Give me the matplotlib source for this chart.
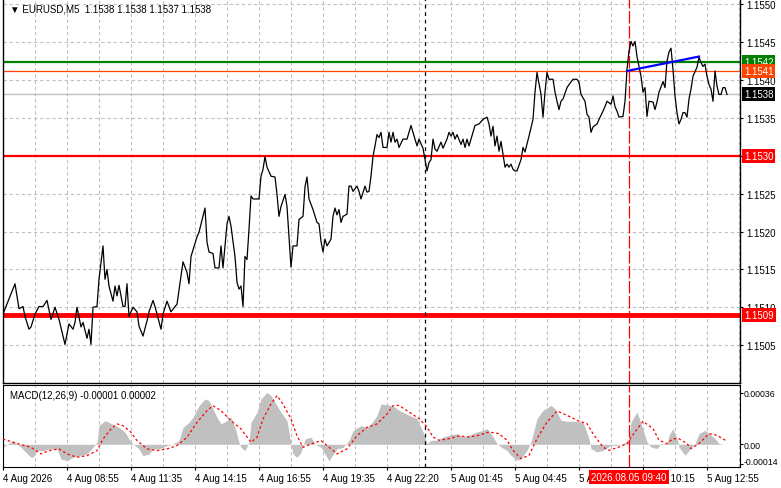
import matplotlib
matplotlib.use("Agg")
import matplotlib.pyplot as plt
import matplotlib.transforms as mtransforms

plt.rcParams['font.family'] = ['Liberation Sans', 'DejaVu Sans']

# EURUSD M5 closes (bar number counted from the left edge)
bars = [0, 3, 6, 8, 10, 11, 13, 14, 16, 18, 20, 22, 24, 26, 28, 30, 31, 33, 35, 36,
        37, 39, 40, 42, 43, 44, 45, 47, 48, 50, 51, 52, 53, 55, 56, 57, 58, 60, 61, 62,
        63, 65, 67, 68, 70, 72, 73, 75, 76, 77, 79, 80, 82, 84, 86, 87, 90, 92, 93, 94,
        97, 98, 100, 101, 102, 103, 105, 106, 108, 109, 110, 112, 113, 114, 116, 117, 118, 119, 120, 121,
        122, 123, 124, 125, 128, 129, 130, 131, 132, 134, 136, 137, 138, 139, 141, 142, 143, 144, 145, 147,
        148, 150, 151, 152, 153, 155, 157, 158, 159, 160, 161, 162, 164, 165, 166, 167, 168, 169, 170, 172,
        173, 174, 175, 177, 178, 179, 181, 182, 183, 184, 185, 186, 187, 188, 189, 190, 192, 193, 194, 195,
        196, 197, 198, 200, 202, 204, 205, 207, 208, 210, 211, 212, 213, 214, 215, 216, 217, 219, 220, 222,
        223, 224, 225, 226, 227, 229, 230, 231, 232, 233, 234, 235, 236, 238, 240, 242, 243, 244, 245, 246,
        247, 248, 249, 250, 251, 252, 253, 254, 255, 256, 257, 259, 260, 261, 263, 265, 266, 267, 269, 270,
        271, 272, 273, 275, 276, 277, 278, 279, 280, 282, 283, 285, 287, 288, 289, 291, 292, 293, 294, 295,
        297, 298, 300, 301, 302, 304, 305, 306, 307, 308, 310, 311, 312, 313, 314, 315, 316, 317, 319, 320,
        321, 322, 323, 325, 326, 327, 328, 330, 331, 332, 333, 334, 335, 336, 337, 338, 339, 340, 341, 342,
        343, 344, 345, 347, 348, 349, 350, 351, 352, 353, 354, 355, 356, 357, 358, 359, 360, 361, 362]
close = [1.15091, 1.15111, 1.15131, 1.15098, 1.15101, 1.15088, 1.15071, 1.15074, 1.15091, 1.15101,
         1.15101, 1.15109, 1.15084, 1.15100, 1.15084, 1.15062, 1.15051, 1.15078, 1.15071, 1.15080,
         1.15100, 1.15074, 1.15080, 1.15059, 1.15071, 1.15051, 1.15100, 1.15101, 1.15137, 1.15181,
         1.15137, 1.15150, 1.15128, 1.15108, 1.15128, 1.15115, 1.15129, 1.15101, 1.15101, 1.15131,
         1.15088, 1.15100, 1.15094, 1.15075, 1.15062, 1.15082, 1.15094, 1.15109, 1.15101, 1.15091,
         1.15071, 1.15091, 1.15108, 1.15094, 1.15101, 1.15104, 1.15160, 1.15146, 1.15131, 1.15167,
         1.15193, 1.15199, 1.15220, 1.15231, 1.15186, 1.15173, 1.15171, 1.15152, 1.15152, 1.15181,
         1.15152, 1.15210, 1.15220, 1.15207, 1.15167, 1.15133, 1.15124, 1.15128, 1.15101, 1.15167,
         1.15163, 1.15203, 1.15247, 1.15243, 1.15243, 1.15273, 1.15282, 1.15299, 1.15285, 1.15273,
         1.15272, 1.15249, 1.15220, 1.15233, 1.15249, 1.15233, 1.15193, 1.15153, 1.15181, 1.15181,
         1.15216, 1.15220, 1.15259, 1.15272, 1.15243, 1.15229, 1.15212, 1.15210, 1.15187, 1.15173,
         1.15190, 1.15181, 1.15190, 1.15220, 1.15231, 1.15222, 1.15229, 1.15212, 1.15220, 1.15223,
         1.15260, 1.15260, 1.15253, 1.15260, 1.15253, 1.15243, 1.15260, 1.15252, 1.15253, 1.15273,
         1.15299, 1.15313, 1.15328, 1.15324, 1.15331, 1.15311, 1.15311, 1.15331, 1.15318, 1.15331,
         1.15318, 1.15322, 1.15311, 1.15322, 1.15322, 1.15340, 1.15331, 1.15313, 1.15322, 1.15310,
         1.15295, 1.15280, 1.15291, 1.15295, 1.15322, 1.15309, 1.15306, 1.15318, 1.15310, 1.15322,
         1.15331, 1.15326, 1.15331, 1.15322, 1.15328, 1.15315, 1.15322, 1.15311, 1.15322, 1.15313,
         1.15322, 1.15331, 1.15340, 1.15342, 1.15348, 1.15351, 1.15342, 1.15326, 1.15339, 1.15313,
         1.15326, 1.15306, 1.15319, 1.15302, 1.15285, 1.15289, 1.15285, 1.15289, 1.15282, 1.15280,
         1.15280, 1.15295, 1.15311, 1.15305, 1.15326, 1.15348, 1.15384, 1.15410, 1.15381, 1.15351,
         1.15384, 1.15410, 1.15401, 1.15401, 1.15384, 1.15372, 1.15361, 1.15372, 1.15375, 1.15390,
         1.15394, 1.15401, 1.15401, 1.15397, 1.15381, 1.15372, 1.15355, 1.15351, 1.15331, 1.15338,
         1.15342, 1.15348, 1.15359, 1.15365, 1.15372, 1.15368, 1.15379, 1.15365, 1.15359, 1.15351,
         1.15352, 1.15372, 1.15414, 1.15438, 1.15451, 1.15445, 1.15451, 1.15431, 1.15405, 1.15384,
         1.15390, 1.15352, 1.15372, 1.15371, 1.15361, 1.15371, 1.15384, 1.15398, 1.15390, 1.15425,
         1.15437, 1.15442, 1.15414, 1.15379, 1.15357, 1.15342, 1.15348, 1.15357, 1.15357, 1.15351,
         1.15375, 1.15388, 1.15405, 1.15417, 1.15430, 1.15423, 1.15418, 1.15421, 1.15405, 1.15394,
         1.15388, 1.15372, 1.15412, 1.15392, 1.15381, 1.15381, 1.15390, 1.15390, 1.15381]

# MACD(12,26,9) histogram and signal line
hist_bars = [0, 5, 9, 14, 15, 17, 20, 23, 27, 29, 32, 35, 38, 42, 45, 47, 48, 51, 53, 56,
             58, 61, 63, 65, 68, 70, 73, 75, 78, 82, 85, 88, 90, 93, 95, 98, 101, 103, 105, 107,
             109, 112, 114, 116, 118, 119, 121, 123, 124, 127, 129, 132, 134, 137, 139, 142, 144, 145, 147, 149,
             151, 154, 156, 159, 161, 163, 164, 167, 170, 173, 175, 179, 182, 184, 187, 189, 193, 196, 198, 203,
             207, 210, 212, 214, 217, 220, 223, 227, 230, 233, 237, 240, 242, 244, 247, 249, 252, 254, 257, 259,
             262, 264, 267, 270, 274, 276, 279, 282, 287, 290, 293, 294, 297, 300, 304, 307, 310, 313, 314, 317,
             319, 322, 324, 327, 329, 332, 333, 335, 337, 338, 341, 343, 346, 348, 351, 353, 356, 358, 362]
hist = [-0.000021, 0.000026, -0.000021, -0.000090, -0.000090, -0.000044, -0.000044, -0.000032, -0.000032, -0.000102,
        -0.000114, -0.000090, -0.000079, -0.000067, -0.000021, 0.000014, 0.000130, 0.000165, 0.000153, 0.000130,
        0.000118, 0.000084, 0.000037, 0.000002, -0.000032, -0.000079, -0.000067, -0.000032, -0.000032, -0.000009,
        0.000002, 0.000026, 0.000118, 0.000153, 0.000188, 0.000269, 0.000316, 0.000304, 0.000246, 0.000188,
        0.000142, 0.000165, 0.000188, 0.000118, 0.000014, -0.000021, -0.000044, 0.000014, 0.000153, 0.000223,
        0.000316, 0.000362, 0.000339, 0.000269, 0.000223, 0.000165, 0.000002, -0.000067, -0.000090, -0.000056,
        0.000037, 0.000049, 0.000002, -0.000021, -0.000067, -0.000114, -0.000090, -0.000032, -0.000021, 0.000026,
        0.000095, 0.000130, 0.000118, 0.000142, 0.000200, 0.000281, 0.000274, 0.000258, 0.000237, 0.000202,
        0.000179, 0.000086, 0.000005, 0.000028, 0.000028, 0.000051, 0.000063, 0.000074, 0.000051, 0.000063,
        0.000086, 0.000097, 0.000109, 0.000074, 0.000005, -0.000019, -0.000042, -0.000077, -0.000111, -0.000100,
        -0.000042, 0.000016, 0.000179, 0.000237, 0.000271, 0.000248, 0.000167, 0.000160, 0.000160, 0.000155,
        0.000039, -0.000030, -0.000053, -0.000042, -0.000007, -0.000007, 0.000005, 0.000028, 0.000155, 0.000225,
        0.000144, 0.000016, -0.000019, -0.000030, 0.000005, 0.000005, 0.000063, 0.000109, 0.000039, -0.000019,
        -0.000077, -0.000042, 0.000005, 0.000074, 0.000097, 0.000074, 0.000039, 0.000005, -0.000002]
sig_bars = [0, 5, 8, 14, 19, 23, 28, 32, 37, 42, 47, 50, 54, 57, 60, 64, 67, 72, 77, 82,
            87, 92, 97, 102, 105, 109, 114, 119, 124, 127, 130, 134, 137, 140, 144, 147, 150, 154, 159, 164,
            167, 172, 177, 182, 187, 192, 195, 198, 203, 208, 212, 215, 218, 223, 228, 233, 238, 243, 248, 252,
            255, 259, 263, 267, 272, 277, 282, 287, 292, 295, 300, 303, 308, 312, 316, 320, 325, 328, 332, 335,
            338, 342, 344, 348, 353, 357, 362]
signal = [0.000037, 0.000014, 0.000002, -0.000021, -0.000067, -0.000044, -0.000032, -0.000067, -0.000090, -0.000079,
          -0.000044, 0.000037, 0.000107, 0.000142, 0.000130, 0.000084, 0.000026, -0.000032, -0.000044, -0.000032,
          -0.000009, 0.000049, 0.000153, 0.000234, 0.000269, 0.000234, 0.000165, 0.000107, 0.000014, 0.000049,
          0.000176, 0.000281, 0.000339, 0.000281, 0.000176, 0.000060, -0.000021, 0.000002, 0.000026, -0.000032,
          -0.000067, -0.000032, 0.000060, 0.000118, 0.000142, 0.000211, 0.000269, 0.000271, 0.000225, 0.000179,
          0.000121, 0.000051, 0.000028, 0.000039, 0.000058, 0.000051, 0.000063, 0.000086, 0.000074, 0.000028,
          -0.000042, -0.000100, -0.000077, 0.000039, 0.000155, 0.000232, 0.000202, 0.000167, 0.000144, 0.000074,
          -0.000019, -0.000042, -0.000019, 0.000005, 0.000086, 0.000160, 0.000109, 0.000028, 0.000005, 0.000039,
          0.000039, 0.000005, -0.000030, 0.000005, 0.000074, 0.000063, 0.000021]

tick_bars = [0, 32, 64, 96, 128, 160, 192, 224, 256, 288, 320, 352]
tick_labels = ["4 Aug 2026", "4 Aug 08:55", "4 Aug 11:35", "4 Aug 14:15", "4 Aug 16:55",
               "4 Aug 19:35", "4 Aug 22:20", "5 Aug 01:45", "5 Aug 04:45", "5 Aug 07:25",
               "5 Aug 10:15", "5 Aug 12:55"]
price_ticks = [1.1505, 1.1510, 1.1515, 1.1520, 1.1525, 1.1530, 1.1535, 1.1540, 1.1545, 1.1550]
macd_ticks = [-0.00014, 0.0, 0.00036]
macd_labels = ['-0.00014', '0.00', '0.00036']

# levels drawn on the chart
green_level = 1.15424
orange_level = 1.15412
bid = 1.15381
red_level = 1.1530
support = 1.1509
trend_bars = [312, 348]
trend_price = [1.15412, 1.15431]
marker_bar = 211
cursor_bar = 313

W, H = 781, 489
fig = plt.figure(figsize=(W / 100, H / 100), dpi=100)
ax = fig.add_axes([2.5 / W, (H - 384) / H, 737.5 / W, 384 / H])
ax2 = fig.add_axes([2.5 / W, (H - 468) / H, 737.5 / W, 82 / H], sharex=ax)

fs = 7
gridkw = dict(color='#c0c0c0', linestyle=(0, (3, 2.5)), linewidth=0.8)

# price panel
ax.plot(bars, close, color='black', lw=0.9, zorder=3)
ax.set_xlim(-0.25, 368.5)
ax.set_ylim(1.15000, 1.15507)
for b in range(0, 369, 16):
    ax.axvline(b, zorder=0, **gridkw)
for p in price_ticks:
    ax.axhline(p, zorder=0, **gridkw)
ax.axhline(bid, color='#c0c0c0', lw=1, zorder=1)
ax.axhline(green_level, color='#008000', lw=1.6, zorder=2)
ax.axhline(orange_level, color='#ff4500', lw=0.9, zorder=2)
ax.axhline(red_level, color='red', lw=1.6, zorder=2)
ax.axhline(support, color='red', lw=3.5, zorder=2)
ax.plot(trend_bars, trend_price, color='blue', lw=1.6, zorder=4)
ax.axvline(marker_bar, color='black', lw=0.9, linestyle=(0, (3, 3)), zorder=2)
ax.axvline(cursor_bar, color='red', lw=0.9, linestyle=(0, (10, 2)), zorder=2)

ax.yaxis.tick_right()
ax.set_yticks(price_ticks)
ax.set_yticklabels(['%.4f' % p for p in price_ticks])
ax.tick_params(axis='y', labelsize=fs, length=2.5, width=0.8, pad=2)
ax.tick_params(axis='x', bottom=False, labelbottom=False)
ax.spines['top'].set_visible(False)
for s in ['left', 'right', 'bottom']:
    ax.spines[s].set_linewidth(1)

trans = ax.get_yaxis_transform()
for val, face in [(green_level, '#008000'), (orange_level, '#ff4500'),
                  (bid, 'black'), (red_level, 'red'), (support, 'red')]:
    ax.text(1 + 4 / 737.5, val, '%.4f' % val, transform=trans, ha='left', va='center',
            fontsize=fs, color='white', zorder=10, clip_on=False,
            bbox=dict(boxstyle='square,pad=0.2', fc=face, ec='none'))

ax.text(8 / 737.5, 1 - 10 / 384, '\u25bc EURUSD,M5  1.1538 1.1538 1.1537 1.1538',
        transform=ax.transAxes, fontsize=fs, va='center', ha='left')

# MACD panel
ax2.fill_between(hist_bars, 0, hist, color='#c0c0c0', lw=0, zorder=1)
ax2.plot(sig_bars, signal, color='red', lw=0.9, linestyle=(0, (2, 2)), zorder=3)
ax2.set_ylim(-0.000158, 0.000413)
for b in range(0, 369, 16):
    ax2.axvline(b, zorder=0, **gridkw)
ax2.axvline(marker_bar, color='black', lw=0.9, linestyle=(0, (3, 3)), zorder=2)
ax2.axvline(cursor_bar, color='red', lw=0.9, linestyle=(0, (10, 2)), zorder=2)
ax2.yaxis.tick_right()
ax2.set_yticks(macd_ticks)
ax2.set_yticklabels(macd_labels)
ax2.tick_params(axis='y', labelsize=6.3, length=2, width=0.8, pad=0.5)
# lowest MACD label sits a little above its tick, as in the terminal
low = ax2.get_yticklabels()[0]
low.set_transform(low.get_transform() + mtransforms.ScaledTranslation(0, 4 / 100, fig.dpi_scale_trans))
ax2.set_xticks(tick_bars)
ax2.set_xticklabels(tick_labels, ha='left')
ax2.tick_params(axis='x', labelsize=fs, length=2.5, width=0.8, pad=2)
ax2.text(7 / 737.5, 1 - 10 / 82, 'MACD(12,26,9) -0.00001 0.00002',
         transform=ax2.transAxes, fontsize=fs, va='center', ha='left')
ax2.text(cursor_bar, -10 / 82, '2026.08.05 09:40', transform=ax2.get_xaxis_transform(),
         ha='center', va='center', fontsize=fs, color='white', zorder=10, clip_on=False,
         bbox=dict(boxstyle='square,pad=0.25', fc='red', ec='none'))

fig.savefig('out.png', dpi=100)
